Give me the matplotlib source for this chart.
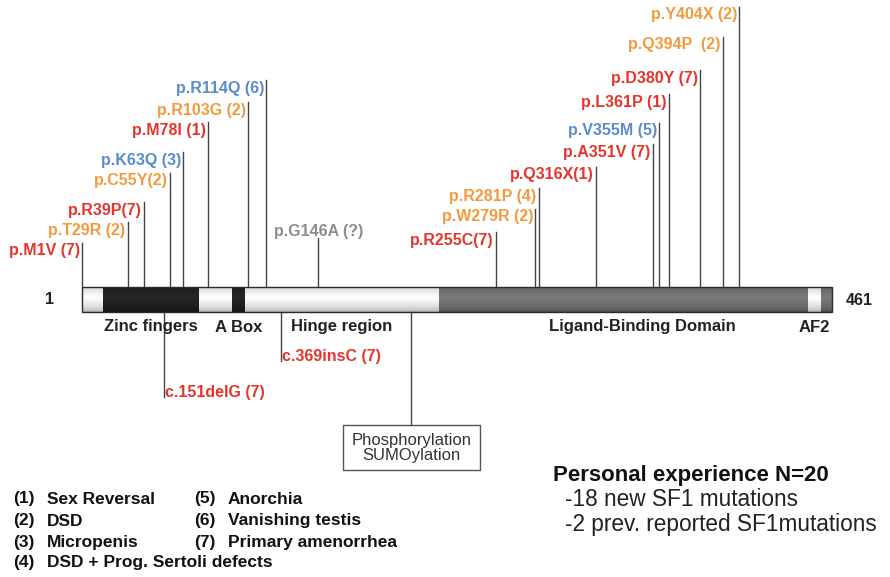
import numpy as np
import matplotlib
matplotlib.use("Agg")
import matplotlib.pyplot as plt
from matplotlib.patches import Rectangle
from matplotlib.colors import to_rgb

plt.rcParams['font.family'] = ['Liberation Sans', 'DejaVu Sans']

# ---------------- data ----------------
protein_length = 461
seg_start = [1, 14, 73, 93, 101, 220, 446, 454]
seg_end = [14, 73, 93, 101, 220, 446, 454, 461]
seg_kind = ["white", "black", "white", "black", "white", "gray", "white", "gray"]

domain_names = ["Zinc fingers", "A Box", "Hinge region", "Ligand-Binding Domain", "AF2"]
domain_start = [14, 93, 101, 220, 446]
domain_end = [73, 101, 220, 461, 454]

mut_labels = ["p.M1V (7)", "p.T29R (2)", "p.R39P(7)", "p.C55Y(2)", "p.K63Q (3)",
              "p.M78I (1)", "p.R103G (2)", "p.R114Q (6)", "p.G146A (?)",
              "p.R255C(7)", "p.W279R (2)", "p.R281P (4)", "p.Q316X(1)",
              "p.A351V (7)", "p.V355M (5)", "p.L361P (1)", "p.D380Y (7)",
              "p.Q394P  (2)", "p.Y404X (2)"]
mut_residue = [1, 29, 39, 55, 63, 78, 103, 114, 146, 255, 279, 281, 316,
               351, 355, 361, 380, 394, 404]
mut_group = ["red", "orange", "red", "orange", "blue", "red", "orange", "blue", "gray",
             "red", "orange", "orange", "red", "red", "blue", "red", "red",
             "orange", "orange"]

below_labels = ["c.151delG (7)", "c.369insC (7)"]
below_residue = [51, 123]

site_label = "Phosphorylation\nSUMOylation"
site_residue = 203

legend_codes = ["(1)", "(2)", "(3)", "(4)", "(5)", "(6)", "(7)"]
legend_terms = ["Sex Reversal", "DSD", "Micropenis", "DSD + Prog. Sertoli defects",
                "Anorchia", "Vanishing testis", "Primary amenorrhea"]

summary_title = "Personal experience N=20"
summary_lines = ["-18 new SF1 mutations", "-2 prev. reported SF1mutations"]

# ---------------- layout / style ----------------
stem_top = [243, 222, 202, 173, 152, 122, 102, 80, 238,
            232, 209, 188, 167, 144, 123, 94, 70, 37, 7]
below_end = [397, 361]
group_color = {"red": "#e5352c", "orange": "#f49a3c", "blue": "#5a8ccc", "gray": "#8c8c8c"}
BAR_TOP, BAR_BOT = 287, 312
k = 750 / 460.0  # px per residue

fig = plt.figure(figsize=(8.9, 5.77), dpi=100)
ax = fig.add_axes([0, 0, 1, 1])
ax.axis("off")


def profile(kind):
    t = np.linspace(0, 1, 64)
    if kind == "white":
        lo, hi = np.array(to_rgb("#a8a8a8")), np.array(to_rgb("#ffffff"))
        p = 0.5
    elif kind == "black":
        lo, hi = np.array(to_rgb("#141414")), np.array(to_rgb("#262626"))
        p = 0.6
    else:
        lo, hi = np.array(to_rgb("#474747")), np.array(to_rgb("#7a7a7a"))
        p = 0.45
    w = np.clip(1 - np.abs(t - 0.42) / 0.58, 0, 1) ** p
    col = lo[None, :] + (hi - lo)[None, :] * w[:, None]
    return col[:, None, :]


for s, e, kd in zip(seg_start, seg_end, seg_kind):
    ax.imshow(profile(kd), extent=(s, e, BAR_BOT, BAR_TOP), origin="upper",
              aspect="auto", interpolation="bilinear", zorder=2)
ax.add_patch(Rectangle((seg_start[0], BAR_TOP), seg_end[-1] - seg_start[0],
                       BAR_BOT - BAR_TOP, fill=False, ec="#2a2a2a", lw=1.0, zorder=3))
ax.set_xlim(1 - 82 / k, 1 + 808 / k)
ax.set_ylim(577, 0)

# ends
ax.text(seg_start[0] - 28 / k, (BAR_TOP + BAR_BOT) / 2, "1", ha="right", va="center",
        fontsize=11.5, fontweight="bold", color="#222222")
ax.text(seg_end[-1] + 14 / k, (BAR_TOP + BAR_BOT) / 2 + 1, str(protein_length),
        ha="left", va="center", fontsize=11.5, fontweight="bold", color="#222222")

# domain labels
lbl_shift = [0, 0, 0, 4, 0]
for name, s, e, sh in zip(domain_names, domain_start, domain_end, lbl_shift):
    ax.text((s + e) / 2 + sh, 327, name, ha="center", va="center",
            fontsize=12, fontweight="bold", color="#222222")

# mutations above
for lab, r, g, top in zip(mut_labels, mut_residue, mut_group, stem_top):
    ax.plot([r, r], [BAR_TOP, top], color="#444444", lw=1.0, zorder=1)
    if g == "gray":
        ax.text(r, top + 1, lab, ha="center", va="bottom", fontsize=11.5,
                fontweight="bold", color=group_color[g])
    else:
        ax.annotate(lab, xy=(r, top + 8), xytext=(-1.5, 0), textcoords="offset points",
                    ha="right", va="center", fontsize=11.5, fontweight="bold",
                    color=group_color[g])

# mutations below
for lab, r, end in zip(below_labels, below_residue, below_end):
    ax.plot([r, r], [BAR_BOT, end], color="#444444", lw=1.0, zorder=1)
    ax.annotate(lab, xy=(r, end - 4), xytext=(1, 0), textcoords="offset points",
                ha="left", va="center", fontsize=11.5, fontweight="bold",
                color=group_color["red"])

# phosphorylation site
box_w = 137 / k
ax.plot([site_residue, site_residue], [BAR_BOT, 425], color="#444444", lw=1.0)
ax.add_patch(Rectangle((site_residue - box_w / 2, 425), box_w, 45, fill=False,
                       ec="#555555", lw=1.0))
ax.text(site_residue, 448, site_label, ha="center", va="center", fontsize=12,
        color="#333333", linespacing=1.0)

# legend
row_y = [499, 521, 542, 563]
for i, (c, t) in enumerate(zip(legend_codes, legend_terms)):
    col = 0 if i < 4 else 1
    row = i if i < 4 else i - 4
    x0 = 1 + (13 - 82) / k if col == 0 else 1 + (194 - 82) / k
    x1 = 1 + (47 - 82) / k if col == 0 else 1 + (228 - 82) / k
    ax.text(x0, row_y[row], c, ha="left", va="center", fontsize=12.5,
            fontweight="bold", color="#111111")
    ax.text(x1, row_y[row], t, ha="left", va="center", fontsize=12.5,
            fontweight="bold", color="#111111")

# summary
ax.text(1 + (553 - 82) / k, 475, summary_title, ha="left", va="center",
        fontsize=16, fontweight="bold", color="#111111")
for j, line in enumerate(summary_lines):
    ax.text(1 + (565 - 82) / k, 500 + 25 * j, line, ha="left", va="center",
            fontsize=16.3, color="#222222")

fig.savefig("out.png", dpi=100)
